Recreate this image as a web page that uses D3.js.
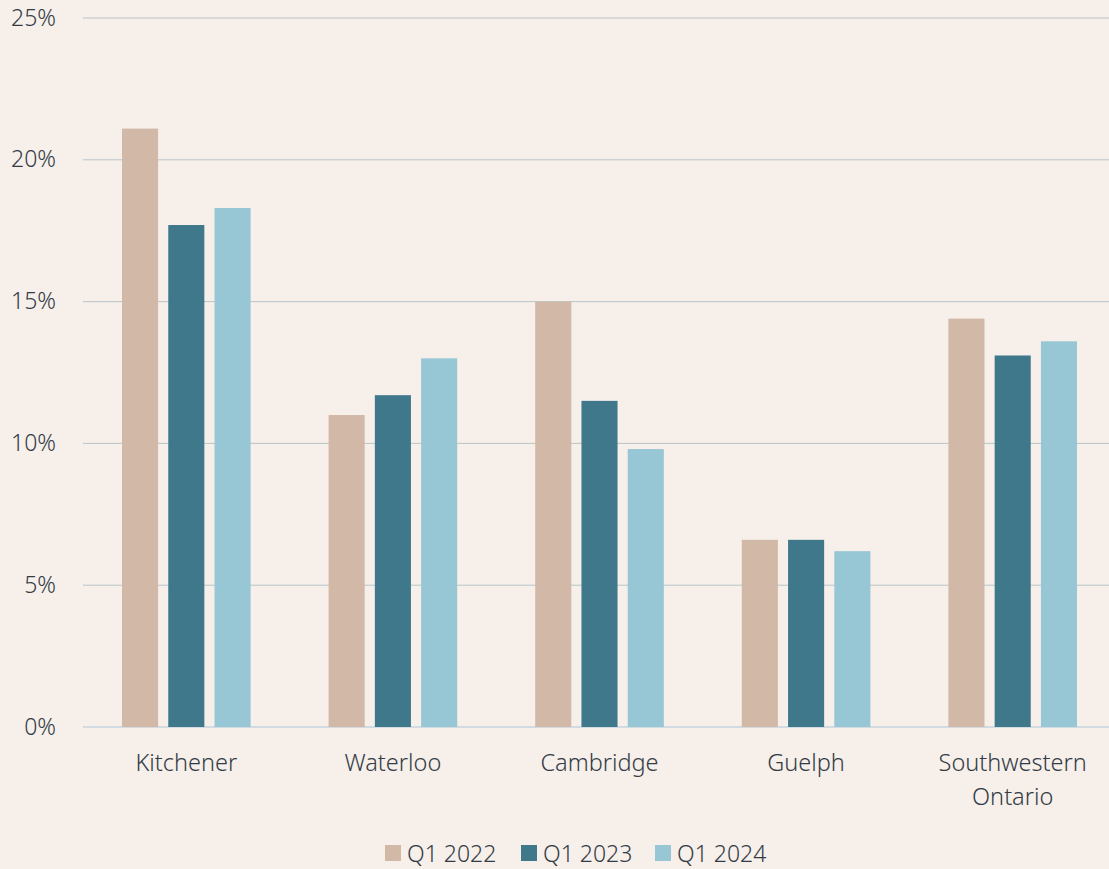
<!DOCTYPE html>
<html lang="en">
<head>
<meta charset="UTF-8">
<title>Vacancy by region</title>
<script src="https://d3js.org/d3.v7.min.js"></script>
<style>
  body { margin: 0; background: #f6efea; }
  text { font-family: "Noto Sans", "Open Sans", sans-serif; font-weight: 300; fill: #333c46; }
</style>
</head>
<body>
<script>
// data
var regions = ["Kitchener", "Waterloo", "Cambridge", "Guelph", "Southwestern Ontario"];
var seriesNames = ["Q1 2022", "Q1 2023", "Q1 2024"];
var q1_2022 = [21.1, 11.0, 15.0, 6.6, 14.4];
var q1_2023 = [17.7, 11.7, 11.5, 6.6, 13.1];
var q1_2024 = [18.3, 13.0, 9.8, 6.2, 13.6];
var yTicks = [0, 5, 10, 15, 20, 25];
var colors = ["#d2b8a6", "#3f788b", "#97c6d5"];

var W = 1109, H = 869;
var margin = {top: 18, right: -7, bottom: 142, left: 83};
var width = W - margin.left - margin.right,
    height = H - margin.top - margin.bottom;

var rows = regions.map(function(r, i) {
  return {region: r, values: [q1_2022[i], q1_2023[i], q1_2024[i]]};
});

var svg = d3.select("body").append("svg")
    .attr("width", W)
    .attr("height", H)
    .style("background", "#f6efea");

var g = svg.append("g")
    .attr("transform", "translate(" + margin.left + "," + margin.top + ")");

var x0 = d3.scaleBand().domain(regions).range([0, width]).paddingInner(0).paddingOuter(0);
var x1 = d3.scaleBand().domain(seriesNames).range([39, x0.bandwidth() - 39]).paddingInner(0.22);
var y = d3.scaleLinear().domain([0, 25]).range([height, 0]);

// gridlines
g.selectAll(".grid").data(yTicks).enter().append("line")
    .attr("x1", 0).attr("x2", width)
    .attr("y1", function(d) { return y(d); })
    .attr("y2", function(d) { return y(d); })
    .attr("stroke", function(d) { return d === 0 ? "#c6d5df" : "#b9c5ca"; })
    .attr("stroke-width", function(d) { return d === 0 ? 1.5 : 1; });

// y labels
g.selectAll(".ylab").data(yTicks).enter().append("text")
    .attr("x", -27)
    .attr("y", function(d) { return y(d); })
    .attr("dy", "0.33em")
    .attr("text-anchor", "end")
    .style("font-size", "23px")
    .text(function(d) { return d + "%"; });

// bars
var groups = g.selectAll(".grp").data(rows).enter().append("g")
    .attr("transform", function(d) { return "translate(" + x0(d.region) + ",0)"; });

groups.selectAll("rect").data(function(d) { return d.values; }).enter().append("rect")
    .attr("x", function(d, i) { return x1(seriesNames[i]); })
    .attr("width", x1.bandwidth())
    .attr("y", function(d) { return y(d); })
    .attr("height", function(d) { return y(0) - y(d); })
    .attr("fill", function(d, i) { return colors[i]; });

// x labels
var xlab = g.selectAll(".xlab").data(regions).enter().append("text")
    .attr("text-anchor", "middle")
    .attr("transform", function(d) { return "translate(" + (x0(d) + x0.bandwidth() / 2) + "," + (height + 44) + ")"; })
    .style("font-size", "23.5px");
xlab.each(function(d) {
  var words = d.split(" ");
  var t = d3.select(this);
  words.forEach(function(w, i) {
    t.append("tspan").attr("x", 0).attr("dy", i === 0 ? 0 : 34).text(w);
  });
});

// legend
var legendX = [385, 521, 655];
var legend = svg.selectAll(".leg").data(seriesNames).enter().append("g")
    .attr("transform", function(d, i) { return "translate(" + legendX[i] + ",845)"; });
legend.append("rect").attr("width", 16).attr("height", 16)
    .attr("fill", function(d, i) { return colors[i]; });
legend.append("text").attr("x", 22).attr("y", 17)
    .style("font-size", "23px")
    .text(function(d) { return d; });
</script>
</body>
</html>
